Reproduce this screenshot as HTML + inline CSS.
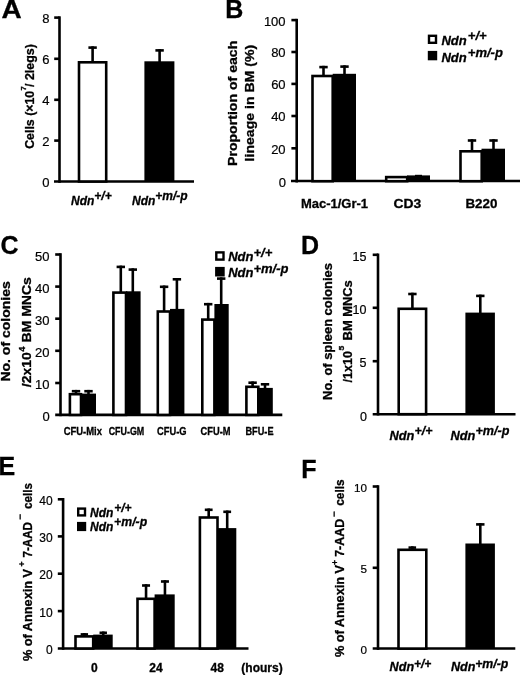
<!DOCTYPE html>
<html><head><meta charset="utf-8"><title>Figure</title>
<style>
html,body{margin:0;padding:0;background:#fff;}
body{width:520px;height:675px;overflow:hidden;}
svg{display:block;}
text{font-family:"Liberation Sans",sans-serif;fill:#000;}
.tk{font-weight:400;stroke:#000;stroke-width:0.2px;}
.b{font-weight:700;stroke:#000;stroke-width:0.3px;}
.bi{font-weight:700;font-style:italic;stroke:#000;stroke-width:0.3px;}
.ax{stroke:#000;stroke-width:2.6;stroke-linecap:butt;}
</style></head>
<body>
<svg width="520" height="675" viewBox="0 0 520 675">
<rect x="0" y="0" width="520" height="675" fill="#fff"/>
<text x="1.6" y="17.9" class="b" font-size="25" textLength="20.2" lengthAdjust="spacingAndGlyphs">A</text>
<line x1="59.5" y1="16.3" x2="59.5" y2="182.8" class="ax"/>
<line x1="54" y1="181.5" x2="194" y2="181.5" class="ax"/>
<line x1="54.2" y1="17.6" x2="59.5" y2="17.6" class="ax"/>
<text x="49.5" y="23.0" class="tk" text-anchor="end" font-size="13">8</text>
<line x1="54.2" y1="58.8" x2="59.5" y2="58.8" class="ax"/>
<text x="49.5" y="64.2" class="tk" text-anchor="end" font-size="13">6</text>
<line x1="54.2" y1="99.8" x2="59.5" y2="99.8" class="ax"/>
<text x="49.5" y="105.2" class="tk" text-anchor="end" font-size="13">4</text>
<line x1="54.2" y1="140.6" x2="59.5" y2="140.6" class="ax"/>
<text x="49.5" y="146.0" class="tk" text-anchor="end" font-size="13">2</text>
<text x="49.5" y="187.0" class="tk" text-anchor="end" font-size="13">0</text>
<rect x="79.00" y="62.30" width="27.20" height="119.20" fill="#fff" stroke="#000" stroke-width="2.6"/>
<line x1="92.6" y1="46.3" x2="92.6" y2="62" stroke="#000" stroke-width="2.6"/>
<line x1="88.39999999999999" y1="47.599999999999994" x2="96.8" y2="47.599999999999994" stroke="#000" stroke-width="2.6"/>
<rect x="144.4" y="61.3" width="30.00" height="120.20" fill="#000"/>
<line x1="159.6" y1="49.1" x2="159.6" y2="62.3" stroke="#000" stroke-width="2.6"/>
<line x1="155.4" y1="50.4" x2="163.79999999999998" y2="50.4" stroke="#000" stroke-width="2.6"/>
<text x="71" y="204.5" class="bi" font-size="12">Ndn</text>
<text x="94.33" y="199.5" class="bi" font-size="12">+/+</text>
<text x="132" y="204.5" class="bi" font-size="12">Ndn</text>
<text x="155.33" y="199.5" class="bi" font-size="12">+m/-p</text>
<text transform="translate(34.2 148.8) rotate(-90)" class="b" font-size="12" textLength="58" lengthAdjust="spacingAndGlyphs">Cells (×10</text>
<text transform="translate(26.3 90.6) rotate(-90)" class="b" font-size="7.5" textLength="4.2" lengthAdjust="spacingAndGlyphs">7</text>
<text transform="translate(34.2 86.9) rotate(-90)" class="b" font-size="12" textLength="42.7" lengthAdjust="spacingAndGlyphs">/ 2legs)</text>
<text x="225.3" y="18.4" class="b" font-size="25">B</text>
<line x1="296.7" y1="18.8" x2="296.7" y2="182.5" class="ax"/>
<line x1="291" y1="181.0" x2="520" y2="181.0" class="ax"/>
<line x1="291.4" y1="20.1" x2="296.7" y2="20.1" class="ax"/>
<text x="285.59999999999997" y="25.5" class="tk" text-anchor="end" font-size="13">100</text>
<line x1="291.4" y1="52" x2="296.7" y2="52" class="ax"/>
<text x="285.59999999999997" y="57.4" class="tk" text-anchor="end" font-size="13">80</text>
<line x1="291.4" y1="83.9" x2="296.7" y2="83.9" class="ax"/>
<text x="285.59999999999997" y="89.30000000000001" class="tk" text-anchor="end" font-size="13">60</text>
<line x1="291.4" y1="116" x2="296.7" y2="116" class="ax"/>
<text x="285.59999999999997" y="121.4" class="tk" text-anchor="end" font-size="13">40</text>
<line x1="291.4" y1="148.3" x2="296.7" y2="148.3" class="ax"/>
<text x="285.59999999999997" y="153.70000000000002" class="tk" text-anchor="end" font-size="13">20</text>
<text x="286" y="186.89999999999998" class="tk" text-anchor="end" font-size="13">0</text>
<rect x="312.50" y="76.00" width="20.20" height="105.20" fill="#fff" stroke="#000" stroke-width="2.6"/>
<line x1="323.5" y1="65.8" x2="323.5" y2="75.7" stroke="#000" stroke-width="2.6"/>
<line x1="319.3" y1="67.1" x2="327.7" y2="67.1" stroke="#000" stroke-width="2.6"/>
<rect x="332.7" y="73.8" width="23.30" height="107.40" fill="#000"/>
<line x1="344.5" y1="65.3" x2="344.5" y2="74.8" stroke="#000" stroke-width="2.6"/>
<line x1="340.3" y1="66.6" x2="348.7" y2="66.6" stroke="#000" stroke-width="2.6"/>
<rect x="386.20" y="177.10" width="21.00" height="4.10" fill="#fff" stroke="#000" stroke-width="2.6"/>
<rect x="407" y="175.4" width="23.00" height="5.80" fill="#000"/>
<rect x="415" y="174.8" width="7" height="1.2" fill="#000"/>
<rect x="460.50" y="151.30" width="21.20" height="29.90" fill="#fff" stroke="#000" stroke-width="2.6"/>
<line x1="472" y1="139.2" x2="472" y2="151" stroke="#000" stroke-width="2.6"/>
<line x1="467.8" y1="140.5" x2="476.2" y2="140.5" stroke="#000" stroke-width="2.6"/>
<rect x="481.5" y="148.7" width="23.50" height="32.50" fill="#000"/>
<line x1="493.5" y1="139.2" x2="493.5" y2="149.7" stroke="#000" stroke-width="2.6"/>
<line x1="489.3" y1="140.5" x2="497.7" y2="140.5" stroke="#000" stroke-width="2.6"/>
<text x="334.5" y="208.2" class="b" font-size="13" text-anchor="middle">Mac-1/Gr-1</text>
<text x="407.3" y="208.2" class="b" font-size="13" text-anchor="middle" textLength="27.8" lengthAdjust="spacingAndGlyphs">CD3</text>
<text x="481.4" y="208.2" class="b" font-size="13" text-anchor="middle" textLength="32" lengthAdjust="spacingAndGlyphs">B220</text>
<text transform="translate(237 166) rotate(-90)" class="b" font-size="13" textLength="125.3" lengthAdjust="spacingAndGlyphs">Proportion of each</text>
<text transform="translate(253.9 161.4) rotate(-90)" class="b" font-size="13.5" textLength="116.5" lengthAdjust="spacingAndGlyphs">lineage in BM (%)</text>
<rect x="429.0" y="35.800000000000004" width="7.00" height="7.00" fill="#fff" stroke="#000" stroke-width="2.4"/>
<rect x="427.8" y="50.9" width="9.4" height="9.4" fill="#000"/>
<text x="441.4" y="44.6" class="bi" font-size="13">Ndn</text>
<text x="467.87" y="40.0" class="bi" font-size="13">+/+</text>
<text x="441.4" y="62.0" class="bi" font-size="13">Ndn</text>
<text x="467.87" y="57.4" class="bi" font-size="13">+m/-p</text>
<text x="0.5" y="254" class="b" font-size="25">C</text>
<line x1="60.5" y1="253.2" x2="60.5" y2="416.2" class="ax"/>
<line x1="55.2" y1="414.9" x2="282.3" y2="414.9" class="ax"/>
<line x1="55.2" y1="254.5" x2="60.5" y2="254.5" class="ax"/>
<text x="49.400000000000006" y="260.5" class="tk" text-anchor="end" font-size="13">50</text>
<line x1="55.2" y1="286.6" x2="60.5" y2="286.6" class="ax"/>
<text x="49.400000000000006" y="292.6" class="tk" text-anchor="end" font-size="13">40</text>
<line x1="55.2" y1="318.7" x2="60.5" y2="318.7" class="ax"/>
<text x="49.400000000000006" y="324.7" class="tk" text-anchor="end" font-size="13">30</text>
<line x1="55.2" y1="350.8" x2="60.5" y2="350.8" class="ax"/>
<text x="49.400000000000006" y="356.8" class="tk" text-anchor="end" font-size="13">20</text>
<line x1="55.2" y1="383" x2="60.5" y2="383" class="ax"/>
<text x="49.400000000000006" y="389.0" class="tk" text-anchor="end" font-size="13">10</text>
<text x="49.8" y="420.7" class="tk" text-anchor="end" font-size="13">0</text>
<rect x="69.90" y="394.20" width="11.10" height="20.70" fill="#fff" stroke="#000" stroke-width="2.6"/>
<line x1="76" y1="389.9" x2="76" y2="393.9" stroke="#000" stroke-width="2.6"/>
<line x1="71.8" y1="391.2" x2="80.2" y2="391.2" stroke="#000" stroke-width="2.6"/>
<rect x="81" y="393.6" width="15.00" height="21.30" fill="#000"/>
<line x1="88.5" y1="389.9" x2="88.5" y2="394.6" stroke="#000" stroke-width="2.6"/>
<line x1="84.3" y1="391.2" x2="92.7" y2="391.2" stroke="#000" stroke-width="2.6"/>
<rect x="113.40" y="292.60" width="12.60" height="122.30" fill="#fff" stroke="#000" stroke-width="2.6"/>
<line x1="120.8" y1="265.6" x2="120.8" y2="292.3" stroke="#000" stroke-width="2.6"/>
<line x1="116.6" y1="266.90000000000003" x2="125.0" y2="266.90000000000003" stroke="#000" stroke-width="2.6"/>
<rect x="126" y="291.3" width="14.60" height="123.60" fill="#000"/>
<line x1="132.8" y1="268.3" x2="132.8" y2="292.3" stroke="#000" stroke-width="2.6"/>
<line x1="128.60000000000002" y1="269.6" x2="137.0" y2="269.6" stroke="#000" stroke-width="2.6"/>
<rect x="157.80" y="311.50" width="12.20" height="103.40" fill="#fff" stroke="#000" stroke-width="2.6"/>
<line x1="164.1" y1="285.5" x2="164.1" y2="311.2" stroke="#000" stroke-width="2.6"/>
<line x1="159.9" y1="286.8" x2="168.29999999999998" y2="286.8" stroke="#000" stroke-width="2.6"/>
<rect x="170" y="308.9" width="14.40" height="106.00" fill="#000"/>
<line x1="176.9" y1="278" x2="176.9" y2="309.9" stroke="#000" stroke-width="2.6"/>
<line x1="172.70000000000002" y1="279.3" x2="181.1" y2="279.3" stroke="#000" stroke-width="2.6"/>
<rect x="202.30" y="319.60" width="12.10" height="95.30" fill="#fff" stroke="#000" stroke-width="2.6"/>
<line x1="208.2" y1="302.9" x2="208.2" y2="319.3" stroke="#000" stroke-width="2.6"/>
<line x1="204.0" y1="304.2" x2="212.39999999999998" y2="304.2" stroke="#000" stroke-width="2.6"/>
<rect x="214.4" y="304" width="14.30" height="110.90" fill="#000"/>
<line x1="221.2" y1="277.3" x2="221.2" y2="305" stroke="#000" stroke-width="2.6"/>
<line x1="217.0" y1="278.6" x2="225.39999999999998" y2="278.6" stroke="#000" stroke-width="2.6"/>
<rect x="246.40" y="386.80" width="11.90" height="28.10" fill="#fff" stroke="#000" stroke-width="2.6"/>
<line x1="252.6" y1="381.4" x2="252.6" y2="386.5" stroke="#000" stroke-width="2.6"/>
<line x1="248.4" y1="382.7" x2="256.8" y2="382.7" stroke="#000" stroke-width="2.6"/>
<rect x="258.3" y="387.9" width="14.50" height="27.00" fill="#000"/>
<line x1="265" y1="383" x2="265" y2="388.9" stroke="#000" stroke-width="2.6"/>
<line x1="260.8" y1="384.3" x2="269.2" y2="384.3" stroke="#000" stroke-width="2.6"/>
<text x="63.7" y="435.2" class="b" font-size="10.5" text-anchor="start" textLength="38.3" lengthAdjust="spacingAndGlyphs">CFU-Mix</text>
<text x="108.7" y="435.2" class="b" font-size="10.5" text-anchor="start" textLength="35.6" lengthAdjust="spacingAndGlyphs">CFU-GM</text>
<text x="157.1" y="435.2" class="b" font-size="10.5" text-anchor="start" textLength="29.5" lengthAdjust="spacingAndGlyphs">CFU-G</text>
<text x="200.6" y="435.2" class="b" font-size="10.5" text-anchor="start" textLength="29.9" lengthAdjust="spacingAndGlyphs">CFU-M</text>
<text x="245.5" y="435.2" class="b" font-size="10.5" text-anchor="start" textLength="28.0" lengthAdjust="spacingAndGlyphs">BFU-E</text>
<text transform="translate(10.1 381.6) rotate(-90)" class="b" font-size="13" textLength="100.3" lengthAdjust="spacingAndGlyphs">No. of colonies</text>
<text transform="translate(30.8 387.2) rotate(-90)" class="b" font-size="13" textLength="35" lengthAdjust="spacingAndGlyphs">/2x10</text>
<text transform="translate(24.8 351.8) rotate(-90)" class="b" font-size="8.5" textLength="5.2" lengthAdjust="spacingAndGlyphs">4</text>
<text transform="translate(30.8 342.6) rotate(-90)" class="b" font-size="13" textLength="65.5" lengthAdjust="spacingAndGlyphs">BM MNCs</text>
<rect x="216.29999999999998" y="252.39999999999998" width="7.20" height="7.20" fill="#fff" stroke="#000" stroke-width="2.4"/>
<rect x="215.1" y="266.9" width="9.6" height="9.6" fill="#000"/>
<text x="228.2" y="261.2" class="bi" font-size="13">Ndn</text>
<text x="253.47" y="256.7" class="bi" font-size="13">+/+</text>
<text x="228.2" y="277.2" class="bi" font-size="13">Ndn</text>
<text x="253.47" y="272.7" class="bi" font-size="13">+m/-p</text>
<text x="300.9" y="253.7" class="b" font-size="25">D</text>
<line x1="378" y1="253.5" x2="378" y2="415.5" class="ax"/>
<line x1="372.7" y1="414.3" x2="515.5" y2="414.3" class="ax"/>
<line x1="372.7" y1="254.8" x2="378" y2="254.8" class="ax"/>
<text x="366.4" y="260.7" class="tk" text-anchor="end" font-size="12.5">15</text>
<line x1="372.7" y1="307.8" x2="378" y2="307.8" class="ax"/>
<text x="366.4" y="313.7" class="tk" text-anchor="end" font-size="12.5">10</text>
<line x1="372.7" y1="361.2" x2="378" y2="361.2" class="ax"/>
<text x="366.4" y="367.09999999999997" class="tk" text-anchor="end" font-size="12.5">5</text>
<text x="366.9" y="420.7" class="tk" text-anchor="end" font-size="12.5">0</text>
<rect x="398.70" y="308.80" width="27.40" height="105.40" fill="#fff" stroke="#000" stroke-width="2.6"/>
<line x1="412.4" y1="292.7" x2="412.4" y2="308.5" stroke="#000" stroke-width="2.6"/>
<line x1="408.2" y1="294.0" x2="416.59999999999997" y2="294.0" stroke="#000" stroke-width="2.6"/>
<rect x="465.4" y="312.6" width="29.50" height="101.60" fill="#000"/>
<line x1="480.3" y1="294.6" x2="480.3" y2="313.6" stroke="#000" stroke-width="2.6"/>
<line x1="476.1" y1="295.90000000000003" x2="484.5" y2="295.90000000000003" stroke="#000" stroke-width="2.6"/>
<text x="389.4" y="439.6" class="bi" font-size="12.8">Ndn</text>
<text x="414.48" y="435.3" class="bi" font-size="12.4">+/+</text>
<text x="450.4" y="439.6" class="bi" font-size="12.8">Ndn</text>
<text x="475.48" y="435.3" class="bi" font-size="12.6">+m/-p</text>
<text transform="translate(331.8 399.9) rotate(-90)" class="b" font-size="12.5" textLength="136.8" lengthAdjust="spacingAndGlyphs">No. of spleen colonies</text>
<text transform="translate(351.9 382.4) rotate(-90)" class="b" font-size="12.5" textLength="31.3" lengthAdjust="spacingAndGlyphs">/1x10</text>
<text transform="translate(344.2 350.5) rotate(-90)" class="b" font-size="7.5" textLength="4.8" lengthAdjust="spacingAndGlyphs">5</text>
<text transform="translate(351.9 340.4) rotate(-90)" class="b" font-size="12.5" textLength="60.2" lengthAdjust="spacingAndGlyphs">BM MNCs</text>
<text x="-1.6" y="475.4" class="b" font-size="25">E</text>
<line x1="63.1" y1="498" x2="63.1" y2="649.8" class="ax"/>
<line x1="57.8" y1="648.5" x2="248.5" y2="648.5" class="ax"/>
<line x1="57.800000000000004" y1="499.3" x2="63.1" y2="499.3" class="ax"/>
<text x="52.6" y="504.7" class="tk" text-anchor="end" font-size="12">40</text>
<line x1="57.800000000000004" y1="536.4" x2="63.1" y2="536.4" class="ax"/>
<text x="52.6" y="541.8" class="tk" text-anchor="end" font-size="12">30</text>
<line x1="57.800000000000004" y1="573.7" x2="63.1" y2="573.7" class="ax"/>
<text x="52.6" y="579.1" class="tk" text-anchor="end" font-size="12">20</text>
<line x1="57.800000000000004" y1="611.1" x2="63.1" y2="611.1" class="ax"/>
<text x="52.6" y="616.5" class="tk" text-anchor="end" font-size="12">10</text>
<text x="52.6" y="654.2" class="tk" text-anchor="end" font-size="12">0</text>
<rect x="75.50" y="636.40" width="17.70" height="12.10" fill="#fff" stroke="#000" stroke-width="2.6"/>
<line x1="84.35000000000001" y1="633.1" x2="84.35000000000001" y2="636.1" stroke="#000" stroke-width="2.6"/>
<line x1="80.65" y1="634.4" x2="88.05000000000001" y2="634.4" stroke="#000" stroke-width="2.6"/>
<rect x="93.2" y="634.6" width="19.50" height="13.90" fill="#000"/>
<line x1="103.25" y1="631.5" x2="103.25" y2="635.6" stroke="#000" stroke-width="2.6"/>
<line x1="99.55" y1="632.8" x2="106.95" y2="632.8" stroke="#000" stroke-width="2.6"/>
<rect x="137.50" y="598.80" width="17.10" height="49.70" fill="#fff" stroke="#000" stroke-width="2.6"/>
<line x1="146.04999999999998" y1="584.2" x2="146.04999999999998" y2="598.5" stroke="#000" stroke-width="2.6"/>
<line x1="142.04999999999998" y1="585.5" x2="150.04999999999998" y2="585.5" stroke="#000" stroke-width="2.6"/>
<rect x="154.6" y="594.4" width="20.10" height="54.10" fill="#000"/>
<line x1="164.95" y1="580.2" x2="164.95" y2="595.4" stroke="#000" stroke-width="2.6"/>
<line x1="160.95" y1="581.5" x2="168.95" y2="581.5" stroke="#000" stroke-width="2.6"/>
<rect x="199.90" y="517.50" width="17.60" height="131.00" fill="#fff" stroke="#000" stroke-width="2.6"/>
<line x1="208.70000000000002" y1="508.5" x2="208.70000000000002" y2="517.2" stroke="#000" stroke-width="2.6"/>
<line x1="204.8" y1="509.8" x2="212.60000000000002" y2="509.8" stroke="#000" stroke-width="2.6"/>
<rect x="217.5" y="528.1" width="18.80" height="120.40" fill="#000"/>
<line x1="227.20000000000002" y1="510.5" x2="227.20000000000002" y2="529.1" stroke="#000" stroke-width="2.6"/>
<line x1="223.3" y1="511.8" x2="231.10000000000002" y2="511.8" stroke="#000" stroke-width="2.6"/>
<text x="94.4" y="672.3" class="b" font-size="12" text-anchor="middle">0</text>
<text x="156" y="672.3" class="b" font-size="12" text-anchor="middle">24</text>
<text x="217.3" y="672.3" class="b" font-size="12" text-anchor="middle">48</text>
<text x="262" y="672.3" class="b" font-size="12" text-anchor="middle">(hours)</text>
<text transform="translate(31.7 661) rotate(-90)" class="b" font-size="12" textLength="92" lengthAdjust="spacingAndGlyphs">% of Annexin V</text>
<text transform="translate(24.5 566.6) rotate(-90)" class="b" font-size="8.5" textLength="5" lengthAdjust="spacingAndGlyphs">+</text>
<text transform="translate(31.7 557.5) rotate(-90)" class="b" font-size="12" textLength="35.5" lengthAdjust="spacingAndGlyphs">7-AAD</text>
<text transform="translate(23 519.8) rotate(-90)" class="b" font-size="9" textLength="5.6" lengthAdjust="spacingAndGlyphs">−</text>
<text transform="translate(31.7 509) rotate(-90)" class="b" font-size="12" textLength="26" lengthAdjust="spacingAndGlyphs">cells</text>
<rect x="78.2" y="508.59999999999997" width="6.80" height="6.80" fill="#fff" stroke="#000" stroke-width="2.4"/>
<rect x="77" y="521.9" width="9.2" height="9.2" fill="#000"/>
<text x="90" y="516.6" class="bi" font-size="12">Ndn</text>
<text x="114.13" y="511.6" class="bi" font-size="12">+/+</text>
<text x="90" y="531.2" class="bi" font-size="12">Ndn</text>
<text x="114.13" y="526.2" class="bi" font-size="12" textLength="33" lengthAdjust="spacingAndGlyphs">+m/-p</text>
<text x="301.3" y="477.7" class="b" font-size="25">F</text>
<line x1="378" y1="485.2" x2="378" y2="649.9" class="ax"/>
<line x1="372.7" y1="648.5" x2="515.3" y2="648.5" class="ax"/>
<line x1="372.7" y1="486.5" x2="378" y2="486.5" class="ax"/>
<text x="367.0" y="491.6" class="tk" text-anchor="end" font-size="11.7">10</text>
<line x1="372.7" y1="567.8" x2="378" y2="567.8" class="ax"/>
<text x="367.0" y="572.9" class="tk" text-anchor="end" font-size="11.7">5</text>
<text x="367.1" y="654.2" class="tk" text-anchor="end" font-size="11.7">0</text>
<rect x="398.50" y="549.80" width="27.80" height="98.80" fill="#fff" stroke="#000" stroke-width="2.6"/>
<line x1="412.3" y1="546.3" x2="412.3" y2="549.5" stroke="#000" stroke-width="2.6"/>
<line x1="408.5" y1="547.5999999999999" x2="416.1" y2="547.5999999999999" stroke="#000" stroke-width="2.6"/>
<rect x="465.4" y="543.5" width="29.50" height="105.10" fill="#000"/>
<line x1="480.3" y1="523.1" x2="480.3" y2="544.5" stroke="#000" stroke-width="2.6"/>
<line x1="476.1" y1="524.4" x2="484.5" y2="524.4" stroke="#000" stroke-width="2.6"/>
<text x="389.6" y="671.4" class="bi" font-size="12.6">Ndn</text>
<text x="413.89" y="667.7" class="bi" font-size="12">+/+</text>
<text x="450.9" y="671.3" class="bi" font-size="12.6">Ndn</text>
<text x="475.19" y="667.5" class="bi" font-size="12.3">+m/-p</text>
<text transform="translate(344.4 657) rotate(-90)" class="b" font-size="12" textLength="92" lengthAdjust="spacingAndGlyphs">% of Annexin V</text>
<text transform="translate(337.5 565) rotate(-90)" class="b" font-size="8.5" textLength="5" lengthAdjust="spacingAndGlyphs">+</text>
<text transform="translate(344.4 556.8) rotate(-90)" class="b" font-size="12" textLength="38" lengthAdjust="spacingAndGlyphs">7-AAD</text>
<text transform="translate(336.5 516.9) rotate(-90)" class="b" font-size="9" textLength="5.6" lengthAdjust="spacingAndGlyphs">−</text>
<text transform="translate(344.4 505.7) rotate(-90)" class="b" font-size="12" textLength="26.3" lengthAdjust="spacingAndGlyphs">cells</text>
</svg>
</body></html>
